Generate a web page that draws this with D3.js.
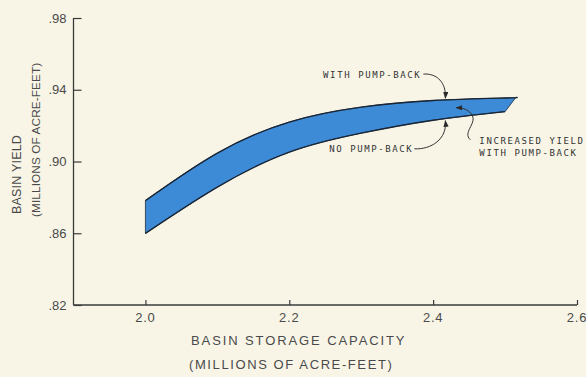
<!DOCTYPE html>
<html>
<head>
<meta charset="utf-8">
<script src="https://cdn.jsdelivr.net/npm/d3@7"></script>
<style>
  html, body { margin: 0; padding: 0; background: #f8f5e7; }
  svg { display: block; }
</style>
</head>
<body>
<svg id="chart" width="586" height="377"></svg>
<script>
// Basin yield versus storage capacity, with and without pump-back
const capacityWith = [2.0, 2.1, 2.2, 2.3, 2.4, 2.5, 2.515];
const yieldWith    = [0.8782, 0.9047, 0.9220, 0.9303, 0.9340, 0.9354, 0.9357];
const capacityNo   = [2.0, 2.1, 2.2, 2.3, 2.4, 2.5];
const yieldNo      = [0.8599, 0.8857, 0.9052, 0.9158, 0.9230, 0.9278];

const xTicks = [2.0, 2.2, 2.4, 2.6];
const xTickLabels = ["2.0", "2.2", "2.4", "2.6"];
const yTicks = [0.82, 0.86, 0.90, 0.94, 0.98];
const yTickLabels = [".82", ".86", ".90", ".94", ".98"];

const svg = d3.select("#chart");
const W = 586, H = 377;

const x = d3.scaleLinear().domain([1.9, 2.6]).range([73.5, 577]);
const y = d3.scaleLinear().domain([0.82, 0.98]).range([305, 18]);

svg.append("rect").attr("width", W).attr("height", H).attr("fill", "#f8f5e7");

const ink = "#3a3a3a";
const sans = "'Liberation Sans', Arial, Helvetica, sans-serif";
const mono = "'DejaVu Sans Mono', 'Liberation Mono', monospace";

// Axes
const xAxis = d3.axisBottom(x).tickValues(xTicks).tickSize(-5).tickFormat("");
const gx = svg.append("g").attr("transform", `translate(0,${y(0.82)})`).call(xAxis);
const yAxis = d3.axisLeft(y).tickValues(yTicks).tickSize(-8).tickFormat("");
const gy = svg.append("g").attr("transform", `translate(${x(1.9)},0)`).call(yAxis);
[gx, gy].forEach(g => {
  g.select(".domain").attr("stroke", ink).attr("stroke-width", 1.3);
  g.selectAll(".tick line").attr("stroke", ink).attr("stroke-width", 1.2);
});
gx.select(".domain").attr("d", `M${x(1.9)},0H${x(2.6)}`);
gy.select(".domain").attr("d", `M0,${y(0.98)}V${y(0.82)}`);

// Tick labels
svg.append("g").selectAll("text").data(xTicks).join("text")
  .attr("x", d => x(d)).attr("y", y(0.82) + 17)
  .attr("text-anchor", "middle")
  .attr("font-family", sans).attr("font-size", 13).attr("letter-spacing", 0.8)
  .attr("fill", "#4a4a4a")
  .text((d, i) => xTickLabels[i]);

svg.append("g").selectAll("text").data(yTicks).join("text")
  .attr("x", x(1.9) - 7).attr("y", d => y(d)).attr("dy", "0.36em")
  .attr("text-anchor", "end")
  .attr("font-family", sans).attr("font-size", 13)
  .attr("fill", "#4a4a4a")
  .text((d, i) => yTickLabels[i]);

// Axis titles
svg.append("text").attr("x", 191).attr("y", 345)
  .attr("font-family", sans).attr("font-size", 13).attr("letter-spacing", 1.9)
  .attr("fill", "#4a4a4a").text("BASIN STORAGE CAPACITY");
svg.append("text").attr("x", 189).attr("y", 369)
  .attr("font-family", sans).attr("font-size", 13).attr("letter-spacing", 1.6)
  .attr("fill", "#4a4a4a").text("(MILLIONS OF ACRE-FEET)");

svg.append("text").attr("transform", "translate(21,214) rotate(-90)")
  .attr("font-family", sans).attr("font-size", 12.5).attr("letter-spacing", 0.2)
  .attr("fill", "#4a4a4a").text("BASIN YIELD");
svg.append("text").attr("transform", "translate(40,217) rotate(-90)")
  .attr("font-family", sans).attr("font-size", 11.8).attr("letter-spacing", 0.1)
  .attr("fill", "#4a4a4a").text("(MILLIONS OF ACRE-FEET)");

// Yield band between the two curves
const withPts = capacityWith.map((c, i) => [x(c), y(yieldWith[i])]);
const noPts = capacityNo.map((c, i) => [x(c), y(yieldNo[i])]);
const line = d3.line().curve(d3.curveNatural);
const bandPath = line(withPts) + line(noPts.slice().reverse()).replace(/^M/, "L") + "Z";

svg.append("path").attr("d", bandPath)
  .attr("fill", "#3d8ad6").attr("stroke", "#1e2c3e").attr("stroke-width", 0.8)
  .attr("stroke-linejoin", "round");
svg.append("path").attr("d", line(withPts)).attr("fill", "none")
  .attr("stroke", "#1a2636").attr("stroke-width", 1.3);
svg.append("path").attr("d", line(noPts)).attr("fill", "none")
  .attr("stroke", "#1a2636").attr("stroke-width", 1.3);

// Annotations anchored on the band
function interp(xs, ys, v) {
  const i = Math.max(1, Math.min(xs.length - 1, d3.bisectLeft(xs, v)));
  const t = (v - xs[i - 1]) / (xs[i] - xs[i - 1]);
  return ys[i - 1] + t * (ys[i] - ys[i - 1]);
}
const markAt = 2.417;
const xA = x(markAt);
const yU = y(interp(capacityWith, yieldWith, markAt));
const yL = y(interp(capacityNo, yieldNo, markAt));

svg.append("defs").append("marker")
  .attr("id", "head").attr("viewBox", "0 0 8 6")
  .attr("refX", 7).attr("refY", 3)
  .attr("markerWidth", 7).attr("markerHeight", 5.5)
  .attr("markerUnits", "userSpaceOnUse")
  .attr("orient", "auto")
  .append("path").attr("d", "M0,0L8,3L0,6Z").attr("fill", "#2a2a2a");

const arrow = (d) => svg.append("path").attr("d", d).attr("fill", "none")
  .attr("stroke", "#333").attr("stroke-width", 1).attr("marker-end", "url(#head)");

arrow(`M${xA - 22},${yU - 26} C${xA - 8},${yU - 27} ${xA + 1},${yU - 17} ${xA},${yU - 2}`);
arrow(`M${xA - 31},${yL + 30} C${xA - 14},${yL + 31} ${xA + 2},${yL + 20} ${xA},${yL + 2}`);
arrow(`M${xA + 25},${yL + 21} C${xA + 17},${yL + 14} ${xA + 31},${yL + 5} ${xA + 27},${yL - 3} C${xA + 24},${yL - 9} ${xA + 18},${yL - 11} ${xA + 11},${yL - 11}`);

const note = (tx, ty, anchor, s) => svg.append("text")
  .attr("x", tx).attr("y", ty).attr("dy", "0.35em").attr("text-anchor", anchor)
  .attr("font-family", mono).attr("font-size", 9).attr("letter-spacing", 1.6)
  .attr("fill", "#333").text(s);

note(xA - 24, yU - 25, "end", "WITH PUMP-BACK");
note(xA - 32, yL + 30, "end", "NO PUMP-BACK");
note(xA + 34, yL + 22, "start", "INCREASED YIELD");
note(xA + 34, yL + 34, "start", "WITH PUMP-BACK");
</script>
</body>
</html>
